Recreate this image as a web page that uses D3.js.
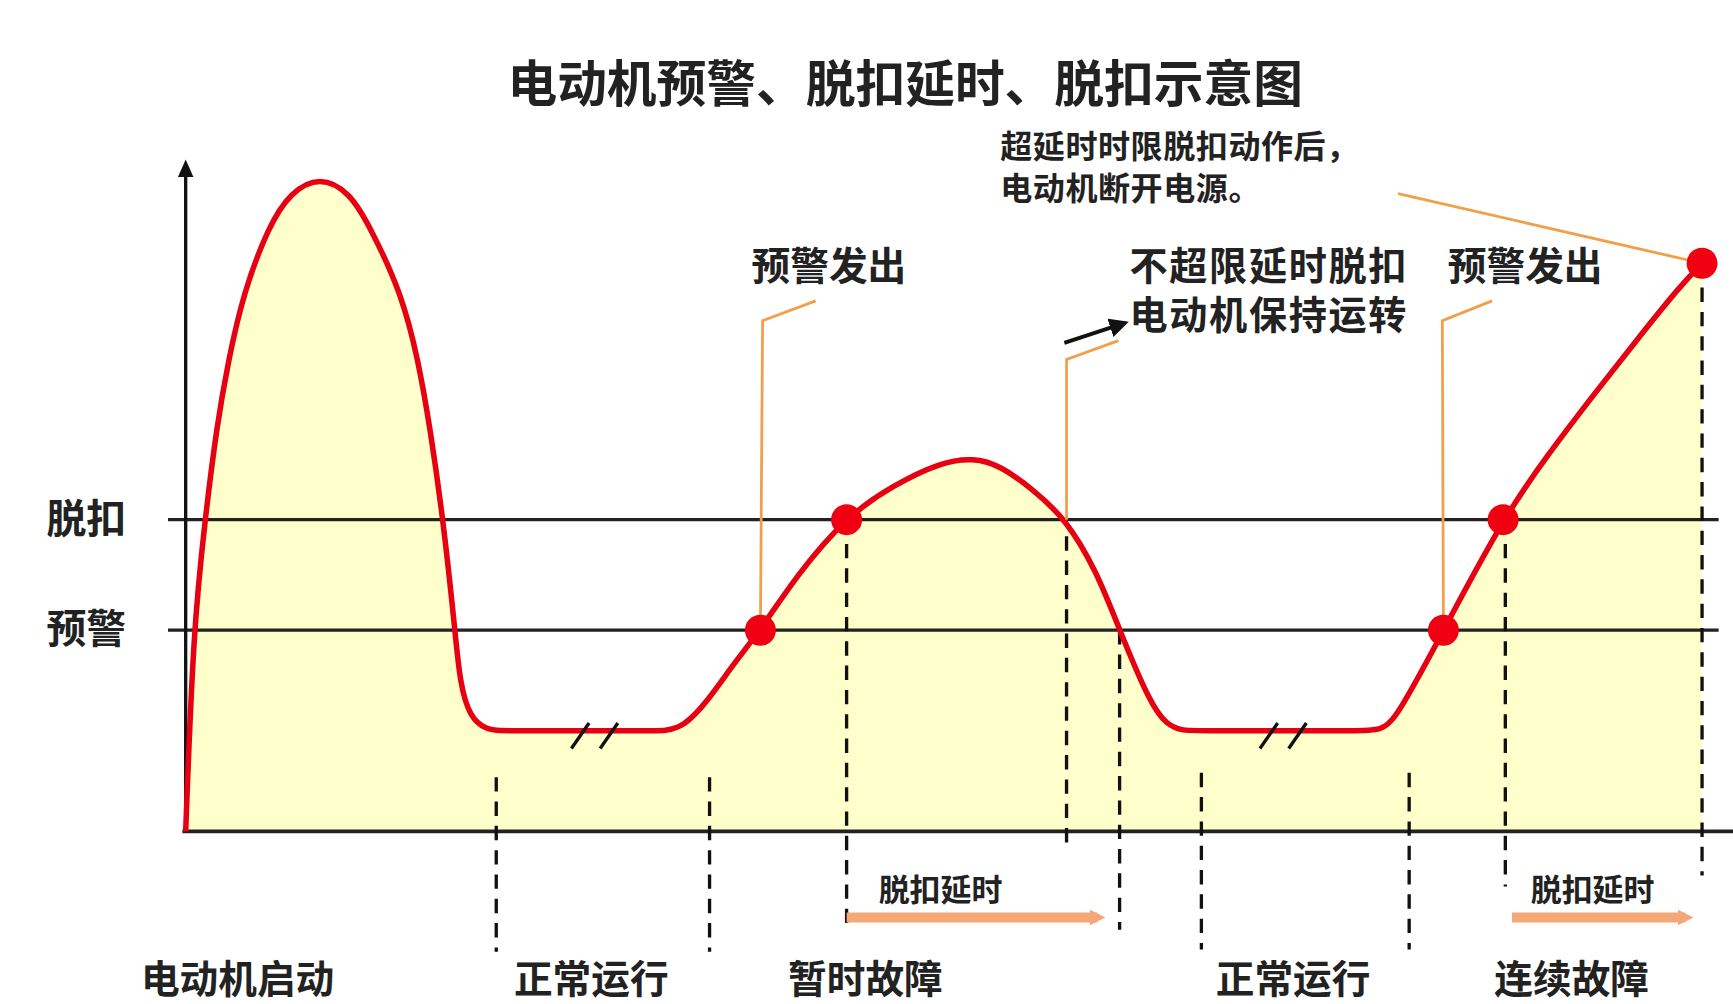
<!DOCTYPE html>
<html>
<head>
<meta charset="utf-8">
<script src="https://cdn.jsdelivr.net/npm/d3@7"></script>
<style>
  body { margin: 0; background: #fff; }
  text { font-family: "Noto Sans CJK SC", sans-serif; font-weight: 700; fill: #222; }
</style>
</head>
<body>
<svg id="chart" width="1733" height="1004" viewBox="0 0 1568 908"></svg>
<script>
// current curve (time units, level units)
const curveT = [0, 0.69, 1.75, 2.8, 3.86, 5.22, 7.48, 9.44, 12.15, 14.87, 16.68, 19.53, 21.05, 22.1, 23.3,
  24.37, 24.8, 25.7, 27.2, 28.5, 30, 41.5, 43.5, 45, 47.1, 49.6, 52, 55.3, 59.8, 64, 68.3, 71.3, 73.7,
  76.7, 79.6, 82.4, 84.5, 87.25, 88.8, 90.2, 92, 107.5, 109, 113.8, 119.2, 123.1, 127.7, 132.2, 135.2, 137.2];
const curveLevel = [0, 18.2, 28.2, 36.6, 42.6, 48.7, 54.7, 57.8, 59.3, 57.8, 54.7, 48.7, 42.6, 36.6, 28.2,
  18.2, 13.5, 10.3, 9.2, 9.1, 9.1, 9.1, 9.1, 9.45, 11.6, 15.2, 18.2, 23.2, 28.5, 31.3, 33.4, 33.8, 33.1,
  30.9, 28.3, 23.6, 18.2, 11.6, 9.6, 9.1, 9.1, 9.1, 9.1, 18.2, 28.3, 33.9, 39.9, 45.6, 49.3, 51.4];

const thresholdNames = ['脱扣', '预警'];
const thresholdLevels = [28.2, 18.2];

// warning / trip points
const dotT = [52, 59.8, 113.8, 119.2, 137.2];
const dotLevel = [18.2, 28.2, 18.2, 28.2, 51.4];

// dashed markers: time, top level, bottom level
const dashT = [28.1, 47.4, 59.8, 79.7, 84.5, 91.9, 110.7, 119.4, 137.2];
const dashTop = [4.9, 4.9, 28.2, 26.7, 18.2, 5.3, 5.3, 28.2, 51.4];
const dashBottom = [-10.9, -10.9, -8.3, -1.5, -8.9, -10.7, -10.7, -5, -4];

// phase labels under the axis
const phaseNames = ['电动机启动', '正常运行', '暂时故障', '正常运行', '连续故障'];
const phaseT = [4.7, 36.7, 61.5, 100.2, 125.4];

// trip delay arrows and their labels
const delayStart = [59.8, 120];
const delayEnd = [83.5, 136.7];
const delayLabelT = [62.7, 121.7];

// break marks on the flat parts
const breakT = [34.9, 37.5, 97.2, 99.8];

// orange callout leaders
const callouts = [
  [[52, 18.2], [52.2, 46.2], [57, 48]],
  [[79.7, 28.2], [79.7, 42.7], [84.4, 44.4]],
  [[113.8, 18.2], [113.7, 46.2], [118.2, 48]],
  [[137.2, 51.4], [109.7, 57.7]]
];

const svg = d3.select('#chart');
const x = d3.scaleLinear().domain([0, 140]).range([168, 1568]);
const y = d3.scaleLinear().domain([0, 60]).range([752, 152]);

const defs = svg.append('defs');
defs.append('marker').attr('id', 'blackHead')
  .attr('viewBox', '0 0 10 10').attr('refX', 8).attr('refY', 5)
  .attr('markerWidth', 5).attr('markerHeight', 5).attr('orient', 'auto')
  .append('path').attr('d', 'M0,0L10,5L0,10Z').attr('fill', '#111');
defs.append('marker').attr('id', 'orangeHead')
  .attr('viewBox', '0 0 10 10').attr('refX', 5).attr('refY', 5)
  .attr('markerWidth', 1.6).attr('markerHeight', 1.8).attr('orient', 'auto')
  .append('path').attr('d', 'M0,0L10,5L0,10Z').attr('fill', '#F5A877');

const pts = curveT.map((t, i) => [t, curveLevel[i]]);
const curve = d3.curveBasis;

svg.append('path')
  .datum(pts)
  .attr('fill', '#FFFFCC')
  .attr('d', d3.area().x(d => x(d[0])).y0(y(0)).y1(d => y(d[1])).curve(curve));

// threshold lines
svg.selectAll('.thr').data(thresholdLevels).enter().append('line')
  .attr('x1', x(-1.6)).attr('x2', x(138.7))
  .attr('y1', d => y(d)).attr('y2', d => y(d))
  .attr('stroke', '#222').attr('stroke-width', 3);

svg.selectAll('.thrLabel').data(thresholdNames).enter().append('text')
  .attr('x', 42).attr('y', (d, i) => y(thresholdLevels[i]) - 4)
  .attr('dominant-baseline', 'central')
  .attr('font-size', 36)
  .text(d => d);

// axes
svg.append('line')
  .attr('x1', x(-0.3)).attr('x2', x(140))
  .attr('y1', y(0)).attr('y2', y(0))
  .attr('stroke', '#222').attr('stroke-width', 3.5);
svg.append('line')
  .attr('x1', x(0)).attr('x2', x(0))
  .attr('y1', y(0)).attr('y2', y(59.5))
  .attr('stroke', '#111').attr('stroke-width', 3);
svg.append('path')
  .attr('d', `M${x(0) - 7},${y(59.2)}L${x(0)},${y(60.8)}L${x(0) + 7},${y(59.2)}Z`)
  .attr('fill', '#111');

// dashed markers
svg.selectAll('.dash').data(dashT).enter().append('line')
  .attr('x1', d => x(d)).attr('x2', d => x(d))
  .attr('y1', (d, i) => y(dashTop[i])).attr('y2', (d, i) => y(dashBottom[i]))
  .attr('stroke', '#111').attr('stroke-width', 3)
  .attr('stroke-dasharray', '13,9');

// current line
svg.append('path')
  .datum(pts)
  .attr('fill', 'none')
  .attr('stroke', '#E60012')
  .attr('stroke-width', 5)
  .attr('stroke-linejoin', 'round')
  .attr('d', d3.line().x(d => x(d[0])).y(d => y(d[1])).curve(curve));

// break marks
svg.selectAll('.brk').data(breakT).enter().append('line')
  .attr('x1', d => x(d)).attr('x2', d => x(d + 1.6))
  .attr('y1', y(7.5)).attr('y2', y(9.8))
  .attr('stroke', '#111').attr('stroke-width', 3);

// callouts
svg.selectAll('.callout').data(callouts).enter().append('path')
  .attr('fill', 'none')
  .attr('stroke', '#F0A048')
  .attr('stroke-width', 2.5)
  .attr('d', d3.line().x(d => x(d[0])).y(d => y(d[1])));

svg.append('line')
  .attr('x1', x(79.5)).attr('y1', y(44.2))
  .attr('x2', x(85)).attr('y2', y(46))
  .attr('stroke', '#111').attr('stroke-width', 3.5)
  .attr('marker-end', 'url(#blackHead)');

// dots
svg.selectAll('.dot').data(dotT).enter().append('circle')
  .attr('cx', d => x(d)).attr('cy', (d, i) => y(dotLevel[i]))
  .attr('r', 14).attr('fill', '#F00010');

// delay arrows
svg.selectAll('.delay').data(delayStart).enter().append('line')
  .attr('x1', d => x(d)).attr('x2', (d, i) => x(delayEnd[i]) - 10)
  .attr('y1', y(-7.8)).attr('y2', y(-7.8))
  .attr('stroke', '#F5A877').attr('stroke-width', 9)
  .attr('marker-end', 'url(#orangeHead)');

svg.selectAll('.delayLabel').data(delayLabelT).enter().append('text')
  .attr('x', d => x(d)).attr('y', y(-5.1))
  .attr('dominant-baseline', 'central')
  .attr('font-size', 28)
  .text('脱扣延时');

// phase labels
svg.selectAll('.phase').data(phaseNames).enter().append('text')
  .attr('x', (d, i) => x(phaseT[i])).attr('y', 883)
  .attr('text-anchor', 'middle')
  .attr('dominant-baseline', 'central')
  .attr('font-size', 35)
  .text(d => d);

// annotations
const note = (lines, tx, ty, size, gap, spacing) => {
  lines.forEach((s, i) => {
    svg.append('text')
      .attr('x', tx).attr('y', ty + i * gap)
      .attr('dominant-baseline', 'central')
      .attr('font-size', size)
      .attr('letter-spacing', spacing)
      .text(s);
  });
};
note(['预警发出'], 680, 238, 35, 0, 0);
note(['不超限延时脱扣', '电动机保持运转'], 1022, 238, 34.5, 45, 1.5);
note(['预警发出'], 1310, 238, 35, 0, 0);
note(['超延时时限脱扣动作后，', '电动机断开电源。'], 905, 130, 29, 38, 0.5);

svg.append('text')
  .attr('x', 819).attr('y', 72)
  .attr('text-anchor', 'middle')
  .attr('dominant-baseline', 'central')
  .attr('font-size', 45)
  .text('电动机预警、脱扣延时、脱扣示意图');
</script>
</body>
</html>
